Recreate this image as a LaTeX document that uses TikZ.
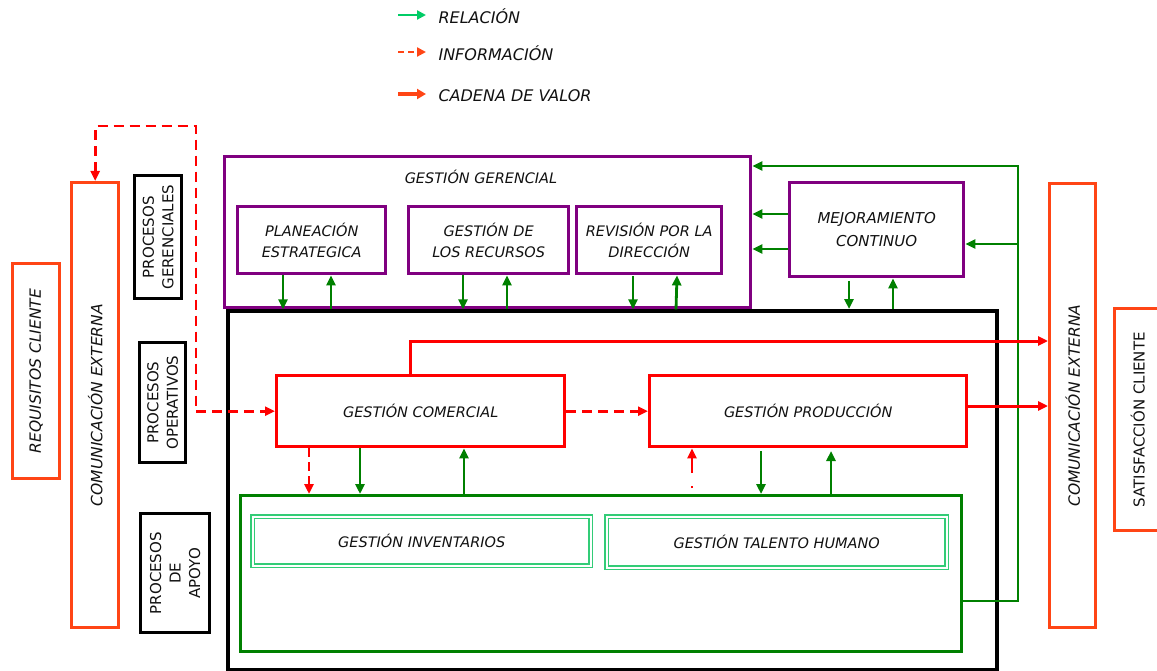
\documentclass[tikz,border=0pt]{standalone}
\usepackage{fontspec}
\setmainfont{DejaVu Sans}
\usetikzlibrary{arrows.meta}
\definecolor{oRed}{HTML}{FF4515}
\definecolor{pRed}{HTML}{FF0000}
\definecolor{pur}{HTML}{800080}
\definecolor{dGreen}{HTML}{008000}
\definecolor{lGreen}{HTML}{00CC66}
\definecolor{mGreen}{HTML}{33CC77}
\definecolor{txt}{HTML}{111111}
\begin{document}
\begin{tikzpicture}[x=1pt,y=-1pt,
  lbl/.style={font=\fontsize{14.5}{20.5}\selectfont\itshape, text=txt, align=center},
  rlbl/.style={font=\fontsize{15.5}{20}\selectfont\itshape, text=txt, align=center, rotate=90},
  leg/.style={font=\fontsize{16}{20}\selectfont\itshape, text=txt, anchor=west},
  plbl/.style={font=\fontsize{15}{19.5}\selectfont, text=txt, align=center, rotate=90},
  box/.style={draw, anchor=north west, inner sep=0pt, line width=3.4pt},
  obox/.style={box, draw=oRed},
  kbox/.style={box, draw=black},
  pbox/.style={box, draw=pur},
  rbox/.style={box, draw=pRed},
  dbox/.style={box, draw=mGreen, line width=1.4pt, double=white, double distance=2.2pt},
  tip/.style={-{Triangle[length=10pt,width=9pt]}},
  rel/.style={draw=dGreen, line width=2.8pt, tip},
  info/.style={draw=pRed, line width=2.8pt, dash pattern=on 10pt off 6pt, tip},
  cv/.style={draw=pRed, line width=3pt, tip}]
\useasboundingbox (0,0) rectangle (1157,671);
% legend
\coordinate (l1a) at (398,15); \coordinate (l1b) at (426,15);
\coordinate (l2a) at (398,52); \coordinate (l2b) at (426,52);
\coordinate (l3a) at (398,94); \coordinate (l3b) at (426,94);
\draw[draw=lGreen, line width=2.2pt, -{Triangle[length=9pt,width=9pt]}] (l1a) -- (l1b);
\draw[draw=oRed, line width=2.2pt, dash pattern=on 6pt off 4pt, -{Triangle[length=9pt,width=9pt]}] (l2a) -- (l2b);
\draw[draw=oRed, line width=4pt, -{Triangle[length=9pt,width=10pt]}] (l3a) -- (l3b);
\node[leg] (t1) at (435,16) {RELACIÓN};
\node[leg] (t2) at (435,53) {INFORMACIÓN};
\node[leg] (t3) at (435,96) {CADENA DE VALOR};
% left column
\node[obox, minimum width=47pt, minimum height=215pt] (req) at (11,262) {};
\node[rlbl] (reqt) at (req.center) {REQUISITOS CLIENTE};
\node[obox, minimum width=47pt, minimum height=445pt] (comL) at (70,181) {};
\node[rlbl] (comLt) at (comL.center) {COMUNICACIÓN EXTERNA};
\node[kbox, minimum width=47pt, minimum height=123pt] (pg) at (133,174) {};
\node[plbl] (pgt) at (pg.center) {PROCESOS\\GERENCIALES};
\node[kbox, minimum width=46pt, minimum height=120pt] (po) at (138,341) {};
\node[plbl] (pot) at (po.center) {PROCESOS\\OPERATIVOS};
\node[kbox, minimum width=69pt, minimum height=119pt] (pa) at (139,512) {};
\node[plbl] (pat) at (pa.center) {PROCESOS\\DE\\APOYO};
% gerencial
\node[pbox, minimum width=526pt, minimum height=151pt] (ger) at (223,155) {};
\node[lbl] (gert) at (481,177) {GESTIÓN GERENCIAL};
\node[pbox, minimum width=148pt, minimum height=67pt, lbl] (plan) at (236,205) {PLANEACIÓN\\ESTRATEGICA};
\node[pbox, minimum width=160pt, minimum height=67pt, lbl] (rec) at (407,205) {GESTIÓN DE\\LOS RECURSOS};
\node[pbox, minimum width=145pt, minimum height=67pt, lbl] (rev) at (575,205) {REVISIÓN POR LA\\DIRECCIÓN};
\node[pbox, minimum width=174pt, minimum height=94pt, font=\fontsize{15}{23}\selectfont\itshape, text=txt, align=center] (mej) at (788,181) {MEJORAMIENTO\\CONTINUO};
% main black box
\node[kbox, line width=4.2pt, minimum width=769pt, minimum height=359pt] (blk) at (226,309) {};
% operativos
\node[rbox, minimum width=288pt, minimum height=71pt, lbl] (com) at (275,374) {GESTIÓN COMERCIAL};
\node[rbox, minimum width=317pt, minimum height=71pt, lbl] (prod) at (648,374) {GESTIÓN PRODUCCIÓN};
% apoyo
\node[box, draw=dGreen, minimum width=721pt, minimum height=156pt] (gbox) at (239,494) {};
\node[dbox, minimum width=338pt, minimum height=49pt, lbl] (inv) at (252,516) {GESTIÓN INVENTARIOS};
\node[dbox, minimum width=340pt, minimum height=51pt, lbl] (tal) at (606,516) {GESTIÓN TALENTO HUMANO};
% right column
\node[obox, minimum width=46pt, minimum height=444pt] (comR) at (1048,182) {};
\node[rlbl] (comRt) at (comR.center) {COMUNICACIÓN EXTERNA};
\node[obox, minimum width=50pt, minimum height=222pt] (sat) at (1113,307) {};
\node[plbl] (satt) at ([xshift=-2pt]sat.center) {SATISFACCIÓN CLIENTE};
% gerencial relations
\draw[rel] (283,0 |- plan.south) -- (283,0 |- ger.south);
\draw[rel] (331,0 |- ger.south) -- (331,0 |- plan.south);
\draw[rel] (463,0 |- rec.south) -- (463,0 |- ger.south);
\draw[rel] (507,0 |- ger.south) -- (507,0 |- rec.south);
\draw[rel] (633,276) -- (633,0 |- ger.south);
\draw[rel] (676,0 |- ger.south) -- (677,0 |- rev.south);
\draw[rel] (mej.west |- 0,214) -- (ger.east |- 0,214);
\draw[rel] (mej.west |- 0,249) -- (ger.east |- 0,249);
\draw[rel] (849,281) -- (849,0 |- blk.north);
\draw[rel] (893,0 |- blk.north) -- (893,0 |- mej.south);
% right green loop
\coordinate (gl1) at (1018,601);
\coordinate (gl2) at (1018,166);
\coordinate (gl3) at (1018,244);
\draw[rel] (gbox.east |- gl1) -- (gl1) -- (gl2) -- (ger.east |- gl2);
\draw[rel] (gl3) -- (mej.east |- gl3);
% information flows
\coordinate (c1) at (196,126);
\draw[info, {Triangle[length=10pt,width=9pt]}-{Triangle[length=10pt,width=9pt]}] (comL.north) |- (c1) |- (com.west);
\draw[info] (com.east) -- (prod.west);
\draw[info, dash pattern=on 9pt off 5pt] (309,0 |- com.south) -- (309,0 |- gbox.north);
\draw[info, dash pattern=on 2pt off 13pt on 40pt] (692,488) -- (692,0 |- prod.south);
% operativos / apoyo relations
\draw[rel] (360,0 |- com.south) -- (360,0 |- gbox.north);
\draw[rel] (464,0 |- gbox.north) -- (464,0 |- com.south);
\draw[rel] (761,451) -- (761,0 |- gbox.north);
\draw[rel] (831,0 |- gbox.north) -- (831,451);
% cadena de valor
\draw[cv] (410,0 |- com.north) |- (comR.west |- 0,341);
\draw[cv] (prod.east |- 0,406) -- (comR.west |- 0,406);
\end{tikzpicture}
\end{document}
